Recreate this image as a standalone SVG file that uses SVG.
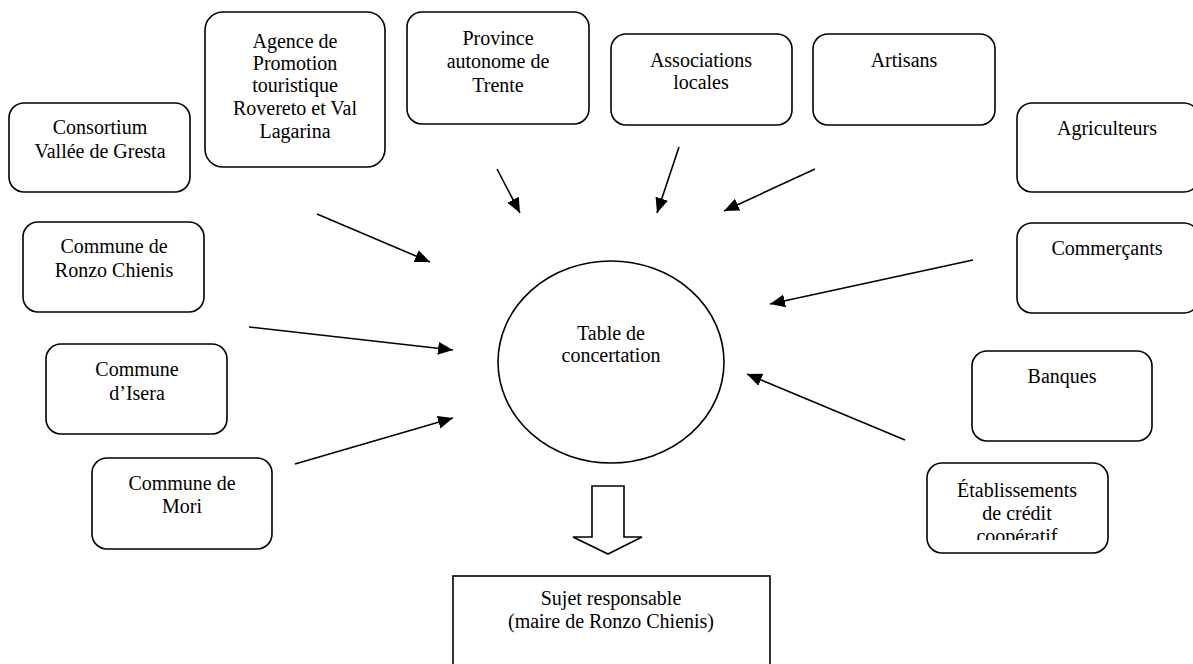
<svg xmlns="http://www.w3.org/2000/svg" width="1193" height="664" viewBox="0 0 1193 664">
<style>
.box{fill:#fff;stroke:#000;stroke-width:1.6}
.t{font-family:"Liberation Serif","Times New Roman",serif;font-size:20px;fill:#000;text-anchor:middle}
.c line{stroke:#000;stroke-width:1.6;marker-end:url(#ah)}
</style>
<defs>
<marker id="ah" markerUnits="userSpaceOnUse" markerWidth="16" markerHeight="14" refX="15" refY="6.5" orient="auto">
<path d="M0,0 L15,6.5 L0,13 Z" fill="#000"/>
</marker>
<clipPath id="clipEtab"><rect x="927" y="463" width="181" height="77"/></clipPath>
</defs>
<rect width="1193" height="664" fill="#fff"/>

<g id="consortium">
<rect class="box" x="9" y="103" width="181" height="89" rx="15"/>
<text class="t" x="100" y="134">Consortium</text>
<text class="t" x="100" y="158">Vallée de Gresta</text>
</g>
<g id="agence">
<rect class="box" x="205" y="12" width="180" height="155" rx="18"/>
<text class="t" x="295" y="48">Agence de</text>
<text class="t" x="295" y="70">Promotion</text>
<text class="t" x="295" y="92">touristique</text>
<text class="t" x="295" y="115">Rovereto et Val</text>
<text class="t" x="295" y="138">Lagarina</text>
</g>
<g id="province">
<rect class="box" x="407" y="12" width="182" height="112" rx="15"/>
<text class="t" x="498" y="45">Province</text>
<text class="t" x="498" y="68">autonome de</text>
<text class="t" x="498" y="92">Trente</text>
</g>
<g id="associations">
<rect class="box" x="611" y="34" width="181" height="91" rx="15"/>
<text class="t" x="701" y="67">Associations</text>
<text class="t" x="701" y="89">locales</text>
</g>
<g id="artisans">
<rect class="box" x="813" y="34" width="182" height="91" rx="15"/>
<text class="t" x="904" y="67">Artisans</text>
</g>
<g id="agriculteurs">
<rect class="box" x="1017" y="103" width="182" height="89" rx="15"/>
<text class="t" x="1107" y="135">Agriculteurs</text>
</g>
<g id="commercants">
<rect class="box" x="1017" y="223" width="182" height="90" rx="15"/>
<text class="t" x="1107" y="255">Commerçants</text>
</g>
<g id="ronzo">
<rect class="box" x="23" y="222" width="181" height="90" rx="15"/>
<text class="t" x="114" y="253">Commune de</text>
<text class="t" x="114" y="277">Ronzo Chienis</text>
</g>
<g id="isera">
<rect class="box" x="46" y="344" width="181" height="90" rx="15"/>
<text class="t" x="137" y="376">Commune</text>
<text class="t" x="137" y="400">d’Isera</text>
</g>
<g id="mori">
<rect class="box" x="92" y="458" width="180" height="91" rx="15"/>
<text class="t" x="182" y="490">Commune de</text>
<text class="t" x="182" y="513">Mori</text>
</g>
<g id="banques">
<rect class="box" x="972" y="351" width="180" height="90" rx="15"/>
<text class="t" x="1062" y="383">Banques</text>
</g>
<g id="etablissements">
<rect class="box" x="927" y="463" width="181" height="90" rx="15"/>
<text class="t" x="1017" y="497">Établissements</text>
<text class="t" x="1017" y="520">de crédit</text>
<text class="t" x="1017" y="543" clip-path="url(#clipEtab)">coopératif</text>
</g>
<g id="table">
<ellipse class="box" cx="611" cy="362" rx="113" ry="101"/>
<text class="t" x="611" y="340">Table de</text>
<text class="t" x="611" y="362">concertation</text>
</g>
<g id="sujet">
<rect class="box" x="453" y="576" width="317" height="100"/>
<text class="t" x="611" y="605">Sujet responsable</text>
<text class="t" x="611" y="628">(maire de Ronzo Chienis)</text>
</g>

<g id="connectors" class="c">
<line x1="317" y1="214" x2="430" y2="262"/>
<line x1="249" y1="327" x2="453" y2="350"/>
<line x1="295" y1="464" x2="453" y2="418"/>
<line x1="497" y1="169" x2="520" y2="213"/>
<line x1="679" y1="147" x2="657" y2="213"/>
<line x1="815" y1="169" x2="724" y2="211"/>
<line x1="973" y1="260" x2="770" y2="304"/>
<line x1="905" y1="440" x2="747" y2="374"/>
<path id="blockArrow" d="M592,486 L624,486 L624,537 L642,537 L608,554 L573,537 L592,537 Z" fill="#fff" stroke="#000" stroke-width="1.6"/>
</g>
</svg>
